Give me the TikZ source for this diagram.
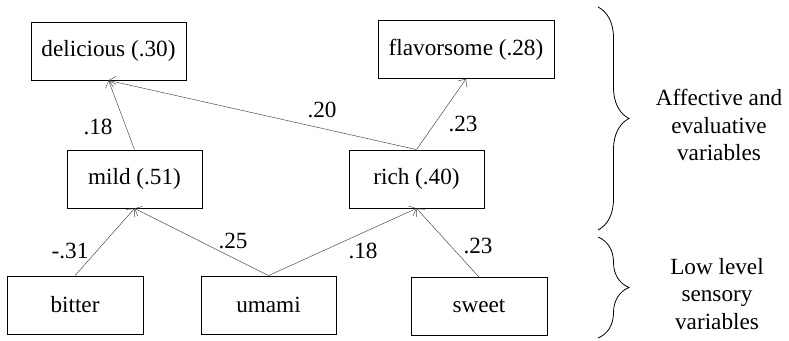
\documentclass[tikz,border=0pt]{standalone}
\usepackage{fontspec}
\setmainfont{Liberation Serif}
\usetikzlibrary{arrows.meta,decorations.pathreplacing}
\begin{document}
\begin{tikzpicture}[x=1pt,y=-1pt,
  every node/.style={font=\rmfamily\fontsize{23.2}{27.5}\selectfont, inner sep=0pt},
  var/.style={draw, line width=0.8pt, minimum height=58pt},
  arr/.style={draw=black!75, line width=0.45pt, -{Straight Barb[length=6pt,width=11pt,line width=0.45pt]}},
  lab/.style={},
  brc/.style={draw, line width=0.8pt, decorate, decoration={brace, amplitude=31pt}}
]
\useasboundingbox (0,0) rectangle (789,340);
% nodes
\node[var, minimum width=155pt] (delicious) at (108.5,51) {delicious (.30)};
\node[var, minimum width=176pt] (flavorsome) at (466,49.5) {flavorsome (.28)};
\node[var, minimum width=135pt] (mild) at (134.5,179) {mild (.51)};
\node[var, minimum width=135pt] (rich) at (416.5,179) {rich (.40)};
\node[var, minimum width=136pt] (bitter) at (75,305) {bitter};
\node[var, minimum width=135pt] (umami) at (268.5,305) {umami};
\node[var, minimum width=136pt] (sweet) at (479,306.5) {sweet};
% connectors
\draw[arr] (mild.north) -- (delicious.south);
\draw[arr] (rich.north) -- (delicious.south);
\draw[arr] (rich.north) -- (flavorsome.south);
\draw[arr] (bitter.north) -- (mild.south);
\draw[arr] (umami.north) -- (mild.south);
\draw[arr] (umami.north) -- (rich.south);
\draw[arr] (sweet.north) -- (rich.south);
% labels
\node[lab] (l1) at (98,127) {.18};
\node[lab] (l2) at (322,110) {.20};
\node[lab] (l3) at (463,124) {.23};
\node[lab] (l4) at (70,251) {-.31};
\node[lab] (l5) at (233,241) {.25};
\node[lab] (l6) at (363,251) {.18};
\node[lab] (l7) at (478,246) {.23};
% braces
\coordinate (b1t) at (598,7);
\coordinate (b1b) at (598,230);
\coordinate (b2t) at (598,237);
\coordinate (b2b) at (598,338);
\draw[brc] (b1t) -- (b1b);
\draw[brc] (b2t) -- (b2b);
\node[align=center] (t1) at (719,125) {Affective and\\evaluative\\variables};
\node[align=center] (t2) at (717,294) {Low level\\sensory\\variables};
\end{tikzpicture}
\end{document}
